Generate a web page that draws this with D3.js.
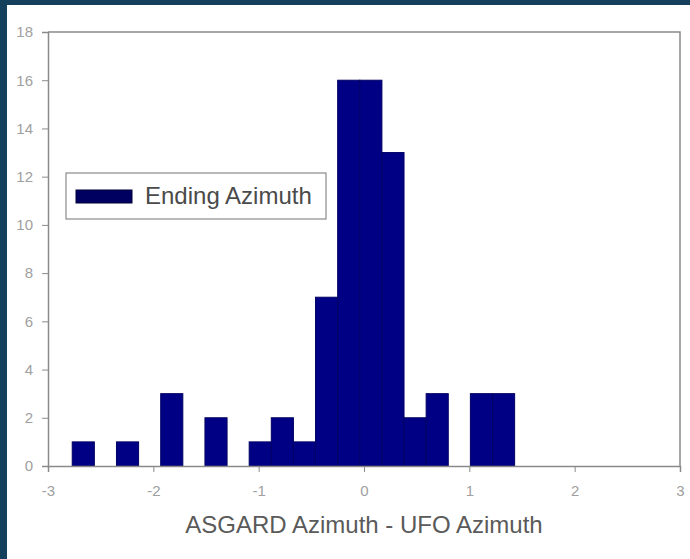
<!DOCTYPE html>
<html>
<head>
<meta charset="utf-8">
<script src="https://cdn.jsdelivr.net/npm/d3@7"></script>
<style>
  html, body { margin: 0; padding: 0; background: #15405c; }
  svg { display: block; }
</style>
</head>
<body>
<svg id="chart" width="690" height="559"></svg>
<script>
// bin edges (left edge of each bar) and counts
const binStarts = [-2.77, -2.56, -2.35, -2.14, -1.93, -1.72, -1.51, -1.30, -1.09, -0.88,
                   -0.67, -0.46, -0.25, -0.04, 0.17, 0.38, 0.59, 0.80, 1.01, 1.22];
const binEnds = [-2.56, -2.35, -2.14, -1.93, -1.72, -1.51, -1.30, -1.09, -0.88, -0.67,
                 -0.46, -0.25, -0.04, 0.17, 0.38, 0.59, 0.80, 1.01, 1.22, 1.43];
const counts = [1, 0, 1, 0, 3, 0, 2, 0, 1, 2, 1, 7, 16, 16, 13, 2, 3, 0, 3, 3];
const xTicks = [-3, -2, -1, 0, 1, 2, 3];
const yTicks = [0, 2, 4, 6, 8, 10, 12, 14, 16, 18];
const seriesName = "Ending Azimuth";
const xTitle = "ASGARD Azimuth - UFO Azimuth";

const bins = binStarts.map((x0, i) => ({ x0, x1: binEnds[i], n: counts[i] }));

const font = "'Liberation Sans', Arial, sans-serif";

const svg = d3.select("#chart");

// white card inside the dark frame
svg.append("rect")
  .attr("x", 7)
  .attr("y", 5)
  .attr("width", 690 - 7)
  .attr("height", 559 - 5)
  .attr("fill", "#fff");

const plot = { left: 48, right: 680, top: 32, bottom: 466 };

const x = d3.scaleLinear().domain([-3, 3]).range([plot.left, plot.right]);
const y = d3.scaleLinear().domain([0, 18]).range([plot.bottom, plot.top]);

const axisColor = "#8a8a8a";
const labelColor = "#a0a0a0";

// top and right frame lines
svg.append("path")
  .attr("d", `M${plot.left},${plot.top}H${plot.right}V${plot.bottom}`)
  .attr("fill", "none")
  .attr("stroke", axisColor)
  .attr("stroke-width", 1.5);

svg.append("g")
  .selectAll("rect")
  .data(bins.filter(d => d.n > 0))
  .join("rect")
  .attr("x", d => x(d.x0))
  .attr("y", d => y(d.n))
  .attr("width", d => x(d.x1) - x(d.x0))
  .attr("height", d => y(0) - y(d.n))
  .attr("fill", "#000085")
  .attr("stroke", "#000064")
  .attr("stroke-width", 1);

// plain hyphen for negatives, like the original
const fmt = d => String(d);

const xAxis = svg.append("g")
  .attr("transform", `translate(0,${plot.bottom})`)
  .call(d3.axisBottom(x).tickValues(xTicks).tickSize(6).tickPadding(13).tickFormat(fmt));

const yAxis = svg.append("g")
  .attr("transform", `translate(${plot.left},0)`)
  .call(d3.axisLeft(y).tickValues(yTicks).tickSize(6).tickPadding(9).tickFormat(fmt));

[xAxis, yAxis].forEach(g => {
  g.select(".domain").attr("stroke", axisColor).attr("stroke-width", 1.5);
  g.selectAll(".tick line").attr("stroke", axisColor);
  g.selectAll(".tick text")
    .attr("fill", labelColor)
    .style("font-family", font)
    .style("font-size", "15px");
});

svg.append("text")
  .attr("x", x(0))
  .attr("y", 533)
  .attr("text-anchor", "middle")
  .attr("fill", "#5a5a5a")
  .style("font-family", font)
  .style("font-size", "24px")
  .text(xTitle);

// legend
const legend = svg.append("g").attr("transform", "translate(66,173)");

legend.append("rect")
  .attr("width", 260)
  .attr("height", 46)
  .attr("fill", "#fff")
  .attr("stroke", "#8a8a8a")
  .attr("stroke-width", 1.2);

legend.append("rect")
  .attr("x", 10)
  .attr("y", 17)
  .attr("width", 56)
  .attr("height", 13)
  .attr("fill", "#000060")
  .attr("stroke", "#00003a");

legend.append("text")
  .attr("x", 79)
  .attr("y", 31)
  .attr("fill", "#4a4a4a")
  .style("font-family", font)
  .style("font-size", "24px")
  .text(seriesName);
</script>
</body>
</html>
